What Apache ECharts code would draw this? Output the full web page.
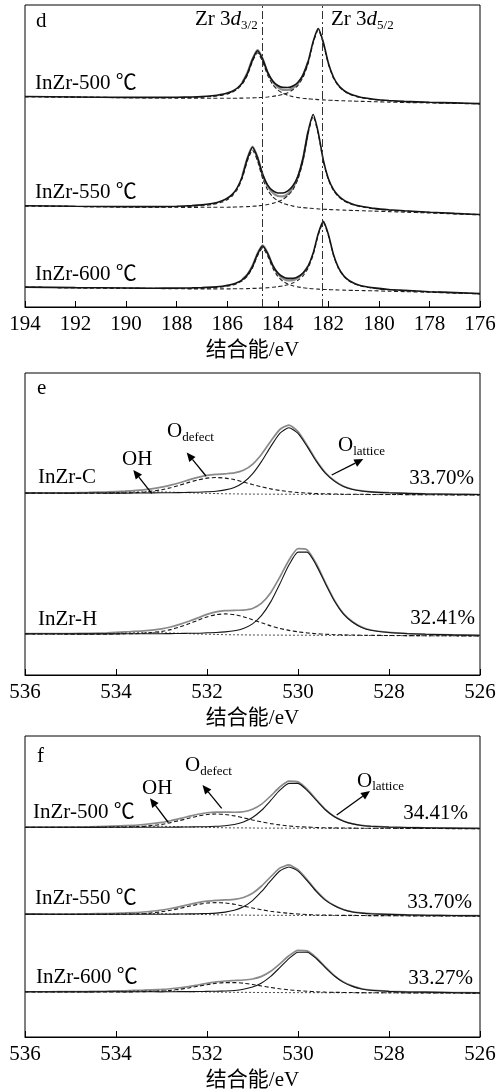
<!DOCTYPE html>
<html><head><meta charset="utf-8">
<script src="https://cdn.jsdelivr.net/npm/echarts@6/dist/echarts.min.js"></script>
<style>html,body{margin:0;padding:0;background:#fff}#c{width:503px;height:1092px}</style>
</head><body><div id="c"></div>
<script>
// ---------- Panel d : Zr 3d ----------
const zrTicks = [194,192,190,188,186,184,182,180,178,176];
const zrRefLines = [184.62, 182.25];
const zrE = [194,192,190,189,188,187.4,187,186.6,186.4,186.2,186.0,185.8,185.6,185.4,185.2,185.0,184.8,184.6,184.4,184.2,184.0,183.8,183.6,183.4,183.2,183.0,182.8,182.6,182.4,182.2,182.0,181.8,181.6,181.4,181.2,181.0,180.8,180.6,180.2,179.6,179,178,177,176];
const zrRawE = [185.4,185.2,185.0,184.8,184.6,184.4,184.2,184.0,183.8,183.6,183.4,183.2,183.0,182.8];

const zr500Env = [210.5,210.0,209.6,209.6,209.7,210.0,210.4,211.2,211.8,212.6,213.9,215.8,219.0,224.3,233.6,247.4,256.3,247.9,234.6,226.0,221.5,219.6,219.5,221.0,224.8,232.1,245.4,265.6,278.4,265.0,244.0,230.0,221.7,216.9,213.8,211.7,210.3,209.2,207.8,206.5,205.6,204.7,204.1,203.4];
const zr500P1  = [210.4,209.9,209.4,209.3,209.3,209.5,209.9,210.5,211.0,211.8,212.9,214.8,217.8,223.0,232.0,245.6,254.2,245.4,231.6,222.4,217.0,213.8,211.7,210.4,209.4,208.7,208.2,207.8,207.4,207.1,206.8,206.6,206.4,206.2,206.0,205.9,205.7,205.6,205.3,204.9,204.5,204.1,203.6,203.1];
const zr500P2  = [210.4,209.8,209.3,209.1,208.9,208.8,208.8,208.8,208.8,208.8,208.8,208.8,208.8,208.9,209.0,209.1,209.3,209.6,210.0,210.6,211.4,212.6,214.3,217.2,221.7,229.7,243.4,264.0,277.0,263.8,243.0,229.1,220.9,216.2,213.1,211.2,209.8,208.8,207.4,206.2,205.4,204.5,203.9,203.3];
const zr500Raw = [224.6,234.2,248.0,256.8,248.3,234.4,225.3,219.8,217.1,217.0,219.0,223.6,231.8,245.4];

const zr550Env = [101.3,100.7,100.4,100.4,100.8,101.4,102.1,103.5,104.6,106.2,108.7,112.6,119.4,131.1,148.5,159.7,149.2,132.6,121.9,116.3,114.0,114.0,116.2,121.2,131.0,148.7,175.5,192.5,174.7,147.1,128.5,117.6,111.2,107.1,104.5,102.6,101.2,100.2,98.6,97.2,96.2,94.8,93.6,92.5];
const zr550P1  = [101.1,100.5,100.1,100.0,100.2,100.7,101.3,102.5,103.5,104.9,107.3,111.0,117.6,129.0,146.1,156.9,145.9,128.6,117.0,110.2,106.3,103.7,102.1,100.9,100.0,99.4,98.9,98.5,98.1,97.8,97.5,97.3,97.1,96.9,96.7,96.5,96.4,96.2,95.9,95.4,94.9,94.0,93.1,92.1];
const zr550P2  = [101.1,100.5,100.0,99.8,99.7,99.6,99.7,99.7,99.7,99.8,99.8,99.9,100.0,100.2,100.4,100.7,101.1,101.7,102.5,103.6,105.2,107.6,111.3,117.4,127.9,146.2,173.4,190.7,173.2,145.8,127.3,116.6,110.3,106.4,103.8,102.0,100.7,99.7,98.2,96.8,95.9,94.6,93.4,92.4];
const zr550Raw = [131.5,149.0,160.4,149.6,132.4,120.8,114.3,111.0,110.6,113.2,119.4,130.2,148.5,175.5];

const zr600Env = [19.9,19.4,19.0,18.8,18.9,19.1,19.4,19.9,20.2,20.8,21.6,22.7,24.5,27.4,32.2,40.6,53.0,61.0,53.5,41.7,34.1,30.2,28.6,28.6,30.3,34.0,41.0,53.9,73.3,85.6,72.8,52.8,39.4,31.6,26.9,24.0,22.1,20.8,19.1,17.5,16.6,15.3,14.4,13.4];
const zr600P1  = [19.8,19.2,18.8,18.6,18.5,18.6,18.9,19.3,19.6,20.1,20.8,21.8,23.5,26.2,30.9,39.1,51.2,59.0,51.1,38.9,30.6,25.8,23.0,21.2,20.1,19.3,18.7,18.2,17.9,17.6,17.4,17.2,17.0,16.9,16.7,16.6,16.5,16.4,16.2,15.8,15.4,14.7,13.9,13.1];
const zr600P2  = [19.8,19.2,18.7,18.5,18.3,18.1,18.1,18.1,18.1,18.1,18.1,18.2,18.2,18.3,18.4,18.6,18.7,19.0,19.3,19.7,20.3,21.1,22.3,24.1,26.8,31.2,38.9,52.1,71.8,84.4,71.7,51.9,38.6,30.8,26.3,23.5,21.6,20.3,18.7,17.2,16.4,15.2,14.2,13.3];
const zr600Raw = [27.6,32.6,41.2,53.6,61.6,53.8,41.4,33.2,28.6,26.6,26.8,29.2,33.6,41.0];

// ---------- Panels e, f : O 1s ----------
const oTicks = [536,534,532,530,528,526];
const oE = [536,535.5,535,534.6,534.2,533.8,533.4,533.0,532.8,532.6,532.4,532.2,532.0,531.8,531.6,531.4,531.2,531.0,530.8,530.6,530.4,530.2,530.0,529.8,529.6,529.4,529.2,529.0,528.8,528.6,528.4,528.0,527.6,527.2,526.6,526];

const eC_OH  = [181.8,181.7,181.7,182.0,182.3,182.8,183.1,183.1,182.8,182.6,182.3,181.9,181.7,181.4,181.2,181.1,181.0,180.9,180.9,180.8,180.8,180.8,180.7,180.7,180.6,180.6,180.6,180.5,180.5,180.5,180.4,180.4,180.3,180.2,180.1,180.0];
const eC_Def = [181.9,181.8,181.7,181.8,181.8,182.0,182.8,185.3,187.3,189.8,192.6,195.1,196.9,197.5,196.9,195.4,193.0,190.5,188.2,186.1,184.6,183.4,182.5,181.9,181.4,181.2,181.0,180.8,180.7,180.7,180.5,180.5,180.4,180.3,180.1,180.0];
const eC_Lat = [182.0,182.0,181.9,182.0,181.9,181.9,182.0,182.2,182.2,182.4,182.6,182.8,183.2,183.7,185.1,187.6,192.5,201.1,213.6,228.4,241.7,247.3,241.6,228.6,213.9,201.9,193.9,188.5,185.5,184.0,183.1,182.2,181.6,181.1,180.8,180.5];
const eC_Env = [182.1,182.1,182.2,182.6,183.1,183.9,185.2,187.9,189.9,192.3,195.1,197.6,199.6,200.6,201.2,202.1,204.7,210.7,220.8,233.7,245.5,249.9,243.4,229.8,214.7,202.5,194.3,188.8,185.7,184.1,183.2,182.3,181.6,181.2,180.8,180.5];

const eH_OH  = [41.0,40.9,40.9,41.1,41.4,42.0,42.3,42.2,42.0,41.7,41.4,41.0,40.8,40.6,40.3,40.2,40.1,40.0,40.0,39.9,39.9,39.8,39.8,39.8,39.7,39.7,39.6,39.6,39.6,39.5,39.5,39.4,39.3,39.2,39.1,39.0];
const eH_Def = [41.1,41.0,40.9,40.9,40.9,41.2,41.7,43.6,45.4,48.1,51.2,54.7,58.1,60.4,61.1,60.4,58.3,55.3,52.2,49.1,46.6,44.6,43.2,42.1,41.3,40.8,40.3,40.1,40.0,39.8,39.7,39.5,39.4,39.3,39.2,39.0];
const eH_Lat = [41.3,41.2,41.2,41.1,41.1,41.2,41.2,41.3,41.4,41.5,41.7,41.8,42.2,42.5,43.1,44.3,46.6,51.1,59.6,73.1,91.1,109.9,122.9,122.9,109.9,91.6,74.0,60.9,52.8,47.6,44.8,42.5,41.4,40.7,40.1,39.7];
const eH_Env = [41.3,41.3,41.4,41.7,42.2,43.1,44.1,46.2,48.0,50.6,53.7,57.1,60.6,63.1,64.3,64.7,64.9,66.5,71.8,82.3,97.8,114.8,126.3,125.2,111.5,92.6,74.8,61.4,53.2,47.9,45.0,42.6,41.5,40.8,40.2,39.7];

const f500_OH  = [210.3,210.2,210.3,210.4,210.8,211.1,211.5,211.4,211.2,211.0,210.7,210.5,210.3,210.1,209.9,209.8,209.8,209.7,209.6,209.6,209.6,209.5,209.5,209.5,209.5,209.4,209.4,209.4,209.4,209.3,209.3,209.3,209.2,209.2,209.1,209.0];
const f500_Def = [210.3,210.3,210.3,210.3,210.4,210.5,211.3,213.3,215.1,217.2,219.5,221.7,223.2,223.8,223.2,221.9,219.9,217.8,215.8,214.1,212.8,211.7,211.0,210.6,210.2,209.9,209.8,209.7,209.6,209.4,209.4,209.4,209.3,209.2,209.1,209.0];
const f500_Lat = [210.4,210.4,210.4,210.3,210.4,210.4,210.4,210.5,210.5,210.6,210.7,210.9,211.0,211.4,212.0,213.2,215.7,220.3,227.5,237.3,247.6,254.5,254.5,247.5,237.6,228.0,220.9,216.5,213.8,212.2,211.4,210.6,210.2,209.9,209.6,209.4];
const f500_Env = [210.5,210.5,210.6,210.8,211.4,212.0,213.2,215.3,217.0,219.1,221.3,223.5,225.0,225.7,225.7,225.5,226.0,228.5,233.7,241.8,250.8,256.7,256.0,248.6,238.3,228.5,221.3,216.8,214.0,212.3,211.5,210.7,210.2,209.9,209.6,209.4];

const f550_OH  = [123.1,123.0,123.0,123.2,123.4,123.6,123.8,123.8,123.6,123.4,123.2,123.0,122.8,122.6,122.5,122.4,122.3,122.2,122.2,122.1,122.1,122.1,122.0,122.0,121.9,121.9,121.9,121.8,121.8,121.8,121.7,121.7,121.6,121.5,121.4,121.3];
const f550_Def = [123.1,123.1,123.0,123.0,123.0,123.2,123.7,125.6,127.1,129.0,131.1,133.0,134.4,134.8,134.4,133.2,131.3,129.5,127.7,126.1,125.0,124.1,123.4,122.9,122.5,122.3,122.2,122.0,122.0,121.9,121.8,121.8,121.6,121.5,121.4,121.3];
const f550_Lat = [123.3,123.2,123.1,123.2,123.1,123.1,123.1,123.2,123.2,123.4,123.5,123.6,123.9,124.3,125.3,127.1,130.7,136.9,146.0,156.8,166.5,170.6,166.4,156.9,146.2,137.4,131.6,127.6,125.4,124.3,123.6,123.0,122.5,122.2,121.9,121.6];
const f550_Env = [123.3,123.3,123.3,123.6,123.9,124.5,125.4,127.4,128.9,130.8,132.9,134.8,136.3,137.1,137.5,138.1,139.9,144.2,151.5,160.8,169.4,172.6,167.8,157.9,146.8,137.9,131.9,127.9,125.6,124.5,123.7,123.1,122.6,122.2,121.9,121.7];

const f600_OH  = [45.3,45.2,45.3,45.4,45.7,45.9,46.2,46.1,46.0,45.8,45.5,45.4,45.2,45.1,44.9,44.8,44.8,44.7,44.6,44.6,44.6,44.5,44.5,44.5,44.5,44.4,44.4,44.4,44.4,44.3,44.3,44.3,44.2,44.2,44.1,44.0];
const f600_Def = [45.3,45.2,45.3,45.2,45.2,45.2,45.5,46.1,46.8,47.9,49.2,50.9,52.5,53.9,54.6,54.6,54.0,52.7,51.2,49.7,48.4,47.3,46.5,45.9,45.4,45.0,44.8,44.7,44.6,44.5,44.4,44.4,44.3,44.2,44.1,44.0];
const f600_Lat = [45.4,45.4,45.4,45.3,45.4,45.3,45.4,45.3,45.4,45.5,45.5,45.6,45.8,45.9,46.2,46.7,47.9,50.1,54.2,60.8,69.6,78.7,85.1,85.1,78.8,69.7,61.2,54.8,50.8,48.2,46.9,45.8,45.2,45.0,44.6,44.3];
const f600_Env = [45.4,45.4,45.5,45.7,46.0,46.4,47.0,47.7,48.4,49.4,50.6,52.2,53.8,55.3,56.2,56.7,57.2,58.2,60.8,65.9,73.4,81.5,87.0,86.4,79.7,70.3,61.6,55.1,51.0,48.4,47.0,45.9,45.3,45.0,44.6,44.4];

const zrSamples = ['InZr-500 ℃','InZr-550 ℃','InZr-600 ℃'];
const eSamples = ['InZr-C','InZr-H'];
const ePercent = ['33.70%','32.41%'];
const fSamples = ['InZr-500 ℃','InZr-550 ℃','InZr-600 ℃'];
const fPercent = ['34.41%','33.70%','33.27%'];

// ---------- build ----------
const FONT = '"Liberation Serif","Times New Roman","Noto Sans CJK SC",serif';
const pairs = (xs, ys) => xs.map((x, i) => [x, ys[i]]);

function line(g, xs, ys, color, width, type, z) {
  return { type:'line', xAxisIndex:g, yAxisIndex:g, data:pairs(xs, ys), showSymbol:false, symbol:'none',
    smooth:0.2, silent:true, z:z||2,
    lineStyle:{ color:color, width:width, type:type||'solid' } };
}
const DASH = [4,2.5];
const series = [];
// panel d
[[zr500Env,zr500P1,zr500P2,zr500Raw],[zr550Env,zr550P1,zr550P2,zr550Raw],[zr600Env,zr600P1,zr600P2,zr600Raw]].forEach(s => {
  series.push(line(0, zrRawE, s[3], '#8d8d8d', 2.2, 'solid', 1));
  series.push(line(0, zrE, s[1], '#222', 1.1, DASH, 2));
  series.push(line(0, zrE, s[2], '#222', 1.1, DASH, 2));
  series.push(line(0, zrE, s[0], '#141414', 1.6, 'solid', 3));
});
series[0].markLine = { silent:true, symbol:'none', label:{show:false},
  lineStyle:{ color:'#333', width:1, type:[8,3,2,3] },
  data: zrRefLines.map(v => ({ xAxis:v })) };
// panels e,f
function oSpec(g, s) {
  series.push(line(g, oE, s[3], '#8a8a8a', 1.7, 'solid', 1));
  series.push(line(g, oE, s[0], '#333', 0.9, [2,2], 2));
  series.push(line(g, oE, s[1], '#151515', 1.1, DASH, 2));
  series.push(line(g, oE, s[2], '#151515', 1.1, 'solid', 3));
}
oSpec(1, [eC_OH,eC_Def,eC_Lat,eC_Env]);
oSpec(1, [eH_OH,eH_Def,eH_Lat,eH_Env]);
oSpec(2, [f500_OH,f500_Def,f500_Lat,f500_Env]);
oSpec(2, [f550_OH,f550_Def,f550_Lat,f550_Env]);
oSpec(2, [f600_OH,f600_Def,f600_Lat,f600_Env]);

const tops = [5, 373, 736];
const grid = tops.map(t => ({ left:25, right:23, top:t, height:302, show:true, borderColor:'#000', borderWidth:1, backgroundColor:'transparent' }));
function xAx(g, min, max, ticks) {
  return { gridIndex:g, type:'value', min:min, max:max, interval:2, inverse:true,
    axisLine:{ show:true, lineStyle:{ color:'#000', width:1 } },
    axisTick:{ show:true, inside:true, length:6, lineStyle:{ color:'#000', width:1 } },
    axisLabel:{ show:true, color:'#000', fontSize:21, fontFamily:FONT, margin:7, showMinLabel:true, showMaxLabel:true,
      formatter: v => ticks.indexOf(v) >= 0 ? String(v) : '' },
    splitLine:{ show:false },
    name:'结合能/eV', nameLocation:'middle', nameGap:33,
    nameTextStyle:{ color:'#000', fontSize:21, fontFamily:FONT } };
}
const xAxis = [xAx(0,176,194,zrTicks), xAx(1,526,536,oTicks), xAx(2,526,536,oTicks)];
const yAxis = [0,1,2].map(g => ({ gridIndex:g, type:'value', min:0, max:302, show:false }));

// text helpers
const mctx = document.createElement('canvas').getContext('2d');
function fontStr(size, it) { return (it ? 'italic ' : '') + size + 'px ' + FONT; }
function tw(t, size, it) { mctx.font = fontStr(size, it); return mctx.measureText(t).width; }
function txt(x, yMid, t, size, align, it) {
  return { type:'text', x:x, y:yMid, silent:true, z:10,
    style:{ text:t, font:fontStr(size, it), fill:'#000', textAlign:align||'left', align:align||'left',
      textVerticalAlign:'middle', verticalAlign:'middle' } };
}
function run(x, base, pieces) {
  const out = []; let cx = x;
  pieces.forEach(p => { const [t, size, it, dy] = p;
    out.push(txt(cx, base + (dy||0) - 0.34*size, t, size, 'left', it)); cx += tw(t, size, it); });
  return out;
}
function arrow(x1, y1, x2, y2) {
  const a = Math.atan2(y2-y1, x2-x1), L = 9, W = 4;
  const bx = x2 - L*Math.cos(a), by = y2 - L*Math.sin(a);
  const px = -Math.sin(a)*W, py = Math.cos(a)*W;
  return [
    { type:'line', silent:true, z:10, shape:{ x1:x1, y1:y1, x2:bx, y2:by }, style:{ stroke:'#000', lineWidth:1.3 } },
    { type:'polygon', silent:true, z:10, shape:{ points:[[x2,y2],[bx+px,by+py],[bx-px,by-py]] }, style:{ fill:'#000' } }
  ];
}
const G = [];
// panel d texts
G.push(txt(36, 21, 'd', 21));
G.push(...run(195, 27, [['Zr 3',21,false],['d',21,true],['3/2',13,false,3]]));
G.push(...run(331, 27, [['Zr 3',21,false],['d',21,true],['5/2',13,false,3]]));
[83, 192, 274].forEach((y, i) => G.push(txt(35, y, zrSamples[i], 21)));
// panel e texts
G.push(txt(37, 388, 'e', 21));
[477, 619].forEach((y, i) => G.push(txt(38, y, eSamples[i], 21)));
[[474,478],[475,618]].forEach((p, i) => G.push(txt(p[0], p[1], ePercent[i], 21, 'right')));
G.push(txt(122, 459, 'OH', 21));
G.push(...run(167, 438.5, [['O',21,false],['defect',13,false,3]]));
G.push(...run(338, 453, [['O',21,false],['lattice',13,false,3]]));
G.push(...arrow(151.7,493.3,133.3,470), ...arrow(206,476,186.7,452.5), ...arrow(331.7,475,363.3,459));
// panel f texts
G.push(txt(37, 756, 'f', 21));
[[33,812],[35,898],[36,977]].forEach((p, i) => G.push(txt(p[0], p[1], fSamples[i], 21)));
[[468,813],[472,902],[473,978]].forEach((p, i) => G.push(txt(p[0], p[1], fPercent[i], 21, 'right')));
G.push(txt(142, 788, 'OH', 21));
G.push(...run(185, 772.7, [['O',21,false],['defect',13,false,3]]));
G.push(...run(357, 788.3, [['O',21,false],['lattice',13,false,3]]));
G.push(...arrow(168.3,822.5,150,798.3), ...arrow(221.7,808.3,202.5,785), ...arrow(336.7,815,370,791));

const chart = echarts.init(document.getElementById('c'), null, { renderer:'canvas', width:503, height:1092 });
chart.setOption({
  animation:false, backgroundColor:'#fff',
  textStyle:{ fontFamily:FONT },
  grid:grid, xAxis:xAxis, yAxis:yAxis, series:series, graphic:{ elements:G }
});
</script></body></html>
